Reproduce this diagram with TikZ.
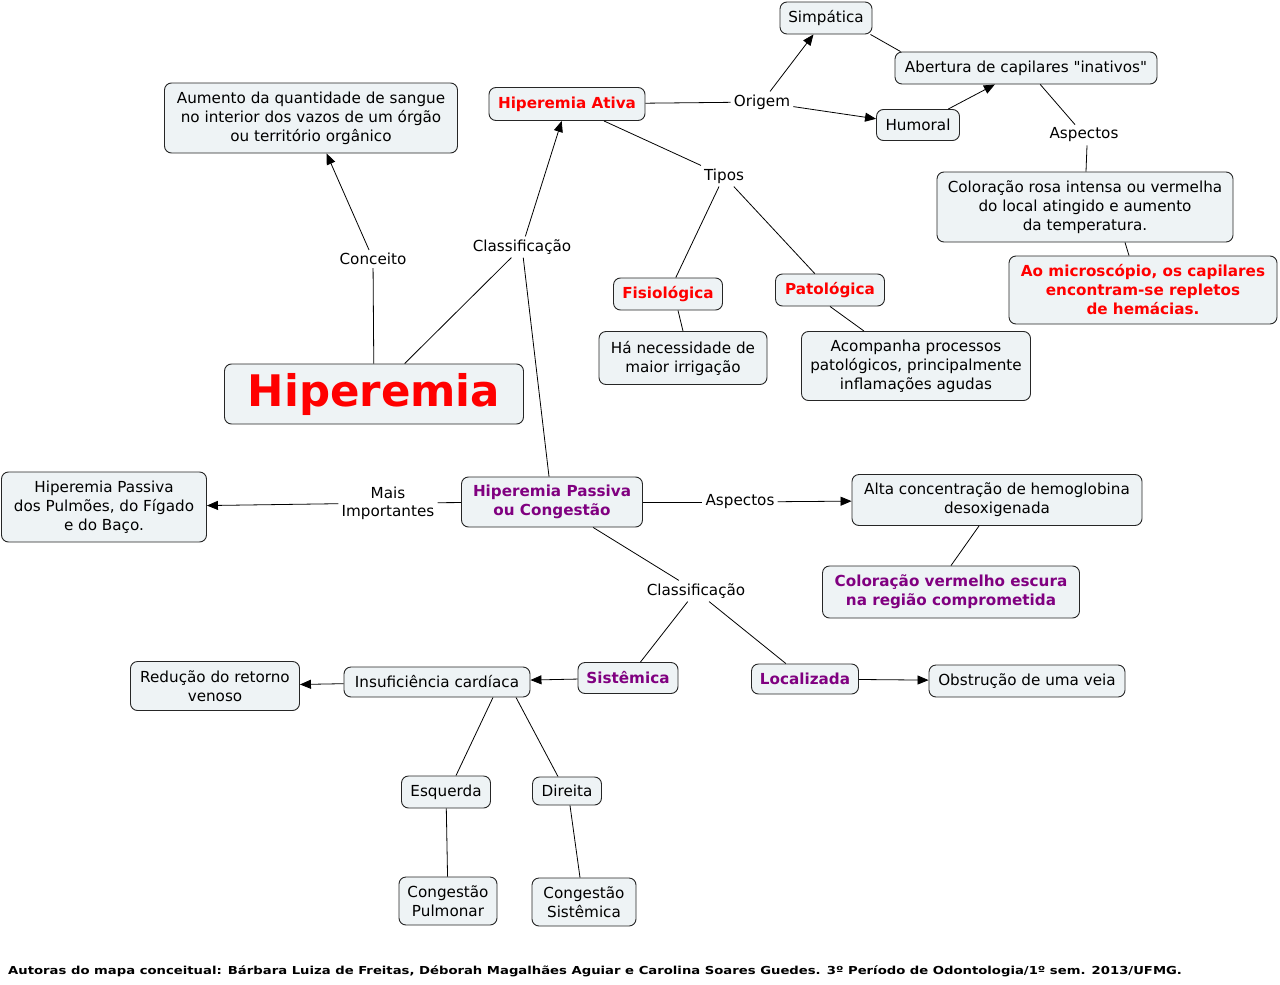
\documentclass[tikz,border=0pt]{standalone}
\usepackage{fontspec}
\setmainfont{DejaVu Sans}[Ligatures=TeXOff]
\usetikzlibrary{arrows.meta}
\definecolor{caixa}{HTML}{EEF3F5}
\definecolor{roxo}{HTML}{800080}

\begin{document}
\begin{tikzpicture}[x=1pt, y=-1pt,
  conceito/.style={draw=black!85, line width=0.9pt, rounded corners=7pt, fill=caixa,
    align=center, inner sep=0pt, font=\fontsize{15.2}{19}\selectfont},
  ligacao/.style={align=center, inner sep=3pt, font=\fontsize{15.2}{18}\selectfont},
  seta/.style={line width=0.8pt, -{Triangle[length=11pt,width=9pt]}},
  linha/.style={line width=0.8pt}]

\useasboundingbox[fill=white] (0,0) rectangle (1280,985);

% Conceito central
\node[conceito, minimum width=299, minimum height=60, text=red,
  font=\fontsize{43.5}{48}\selectfont\bfseries] (hip) at (374,394) {Hiperemia};
\node[conceito, minimum width=293, minimum height=70] (aumento) at (311,118)
  {Aumento da quantidade de sangue\\no interior dos vazos de um órgão\\ou território orgânico};

% Hiperemia ativa
\node[conceito, minimum width=156, minimum height=33, text=red] (ativa) at (567,104) {\textbf{Hiperemia Ativa}};
\node[conceito, minimum width=92, minimum height=32] (simp) at (826,18) {Simpática};
\node[conceito, minimum width=83, minimum height=31] (humoral) at (918,125) {Humoral};
\node[conceito, minimum width=262, minimum height=32] (abertura) at (1026,68) {Abertura de capilares "inativos"};
\node[conceito, minimum width=296, minimum height=70] (rosa) at (1085,207)
  {Coloração rosa intensa ou vermelha\\do local atingido e aumento\\da temperatura.};
\node[conceito, minimum width=268, minimum height=68, text=red] (micro) at (1143,290)
  {\textbf{Ao microscópio, os capilares}\\\textbf{encontram-se repletos}\\\textbf{de hemácias.}};
\node[conceito, minimum width=109, minimum height=32, text=red] (fisio) at (668,294) {\textbf{Fisiológica}};
\node[conceito, minimum width=109, minimum height=32, text=red] (pato) at (830,290) {\textbf{Patológica}};
\node[conceito, minimum width=168, minimum height=53] (irrig) at (683,358) {Há necessidade de\\maior irrigação};
\node[conceito, minimum width=229, minimum height=69] (acomp) at (916,366)
  {Acompanha processos\\patológicos, principalmente\\inflamações agudas};

% Hiperemia passiva
\node[conceito, minimum width=181, minimum height=50, text=roxo] (passiva) at (552,502)
  {\textbf{Hiperemia Passiva}\\\textbf{ou Congestão}};
\node[conceito, minimum width=205, minimum height=70] (pulmoes) at (104,507)
  {Hiperemia Passiva\\dos Pulmões, do Fígado\\e do Baço.};
\node[conceito, minimum width=290, minimum height=51] (alta) at (997,500)
  {Alta concentração de hemoglobina\\desoxigenada};
\node[conceito, minimum width=257, minimum height=52, text=roxo] (escura) at (951,592)
  {\textbf{Coloração vermelho escura}\\\textbf{na região comprometida}};
\node[conceito, minimum width=100, minimum height=31, text=roxo] (sist) at (628,678) {\textbf{Sistêmica}};
\node[conceito, minimum width=107, minimum height=30, text=roxo] (local) at (805,679) {\textbf{Localizada}};
\node[conceito, minimum width=196, minimum height=32] (veia) at (1027,681) {Obstrução de uma veia};
\node[conceito, minimum width=186, minimum height=30] (insuf) at (437,682) {Insuficiência cardíaca};
\node[conceito, minimum width=169, minimum height=49] (retorno) at (215,686) {Redução do retorno\\venoso};
\node[conceito, minimum width=89, minimum height=32] (esq) at (446,792) {Esquerda};
\node[conceito, minimum width=69, minimum height=28] (dir) at (567,791) {Direita};
\node[conceito, minimum width=98, minimum height=48] (cpulm) at (448,901) {Congestão\\Pulmonar};
\node[conceito, minimum width=104, minimum height=48] (csist) at (584,902) {Congestão\\Sistêmica};

% Frases de ligacao
\node[ligacao] (conc) at (373,259) {Conceito};
\node[ligacao] (class1) at (522,247) {Classificação};
\node[ligacao] (origem) at (762,102) {Origem};
\node[ligacao] (tipos) at (724,176) {Tipos};
\node[ligacao] (asp1) at (1084,135) {Aspectos};
\node[ligacao] (mais) at (388,503) {Mais\\Importantes};
\node[ligacao] (asp2) at (740,502) {Aspectos};
\node[ligacao] (class2) at (696,591) {Classificação};

% Ligacoes
\draw[linha] (hip) -- (conc);
\draw[seta] (conc) -- (aumento);
\draw[linha] (hip) -- (class1);
\draw[seta] (class1) -- (ativa);
\draw[linha] (class1) -- (passiva);
\draw[linha] (ativa) -- (origem);
\draw[seta] (origem) -- (simp);
\draw[seta] (origem) -- (humoral);
\draw[linha] ([xshift=-2pt]simp.south east) -- ([xshift=6pt]abertura.north west);
\draw[seta] (humoral) -- (abertura);
\draw[linha] (abertura) -- (asp1);
\draw[linha] ([xshift=3pt]asp1.south) -- ([xshift=1pt]rosa.north);
\draw[linha] ([xshift=40pt]rosa.south) -- ([xshift=-14pt]micro.north);
\draw[linha] (ativa) -- (tipos);
\draw[linha] (tipos) -- (fisio);
\draw[linha] (tipos) -- (pato);
\draw[linha] ([xshift=10pt]fisio.south) -- (irrig.north);
\draw[linha] (pato.south) -- ([xshift=-52pt]acomp.north);
\draw[linha] (passiva) -- (mais);
\draw[seta] (mais) -- (pulmoes);
\draw[linha] (passiva) -- (asp2);
\draw[seta] (asp2) -- (alta);
\draw[linha] ([xshift=-18pt]alta.south) -- (escura.north);
\draw[linha] (passiva) -- (class2);
\draw[linha] (class2) -- (sist);
\draw[linha] (class2) -- (local);
\draw[seta] (sist) -- (insuf);
\draw[seta] (insuf) -- (retorno);
\draw[seta] (local) -- (veia);
\draw[linha] ([xshift=56pt]insuf.south) -- ([xshift=10pt]esq.north);
\draw[linha] ([xshift=79pt]insuf.south) -- ([xshift=-9pt]dir.north);
\draw[linha] (esq) -- (cpulm);
\draw[linha] ([xshift=3pt]dir.south) -- ([xshift=-4pt]csist.north);

% Rodape
\node[anchor=west, inner sep=0pt, font=\fontsize{11}{12}\selectfont\bfseries] (autoras) at (8,971)
  {\scalebox{1.2}[1]{Autoras do mapa conceitual: Bárbara Luiza de Freitas, Déborah Magalhães Aguiar e Carolina Soares Guedes. 3º Período de Odontologia/1º sem. 2013/UFMG.}};

\end{tikzpicture}
\end{document}
